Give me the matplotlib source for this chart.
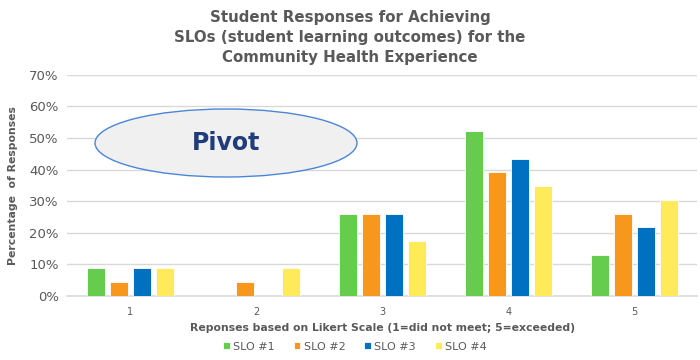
import numpy as np
import matplotlib.pyplot as plt
from matplotlib.patches import Ellipse
from matplotlib.ticker import PercentFormatter

categories = ['1', '2', '3', '4', '5']
series_names = ['SLO #1', 'SLO #2', 'SLO #3', 'SLO #4']
slo1 = [8.7, 0.0, 26.1, 52.2, 13.0]
slo2 = [4.3, 4.3, 26.1, 39.1, 26.1]
slo3 = [8.7, 0.0, 26.1, 43.5, 21.7]
slo4 = [8.7, 8.7, 17.4, 34.8, 30.4]
colors = ['#66CC4D', '#F7981D', '#0070C0', '#FFEB5A']

fig = plt.figure(figsize=(7, 3.6), dpi=100)
ax = fig.add_axes([0.096, 0.178, 0.9, 0.614])

x = np.arange(len(categories))
w = 0.143
step = 0.183
for i, (vals, name) in enumerate(zip([slo1, slo2, slo3, slo4], series_names)):
    ax.bar(x + (i - 1.5) * step, vals, width=w, color=colors[i], label=name,
           edgecolor='white', linewidth=0.6, zorder=3)

ax.set_xlim(-0.5, 4.5)
ax.set_ylim(0, 70)
ax.set_yticks(range(0, 71, 10))
ax.yaxis.set_major_formatter(PercentFormatter(decimals=0))
ax.set_xticks(x)
ax.set_xticklabels(categories)
ax.grid(axis='y', color='#D9D9D9', linewidth=1, zorder=0)
for s in ['top', 'right', 'left']:
    ax.spines[s].set_visible(False)
ax.spines['bottom'].set_color('#D9D9D9')
ax.spines['bottom'].set_linewidth(1.2)
ax.tick_params(axis='both', length=0, colors='#595959')
ax.tick_params(axis='y', labelsize=9.5, pad=6)
ax.tick_params(axis='x', labelsize=7, pad=8)

ax.set_xlabel('Reponses based on Likert Scale (1=did not meet; 5=exceeded)',
              fontsize=7.8, fontweight='bold', color='#595959', labelpad=4)
ax.set_ylabel('Percentage  of Responses', fontsize=7.8, fontweight='bold',
              color='#595959', labelpad=8)

fig.text(0.5, 1 - 10 / 360,
         'Student Responses for Achieving\nSLOs (student learning outcomes) for the\nCommunity Health Experience',
         ha='center', va='top', fontsize=10.8, fontweight='bold', color='#595959',
         linespacing=1.4)

ell = Ellipse((226 / 700, 1 - 143 / 360), 262 / 700, 68 / 360, transform=fig.transFigure,
              facecolor='#F0F0F0', edgecolor='#4A86D8', linewidth=1, zorder=5)
fig.patches.append(ell)
fig.text(226 / 700, 1 - 143 / 360, 'Pivot', ha='center', va='center', fontsize=17,
         fontweight='bold', color='#1F3D7A', zorder=6)

fig.legend(loc='lower center', bbox_to_anchor=(0.507, -0.005), ncol=4, frameon=False,
           fontsize=8, handlelength=0.6, handleheight=0.6, handletextpad=0.3,
           columnspacing=1.7, labelcolor='#595959')

fig.savefig('out.png', dpi=100)
